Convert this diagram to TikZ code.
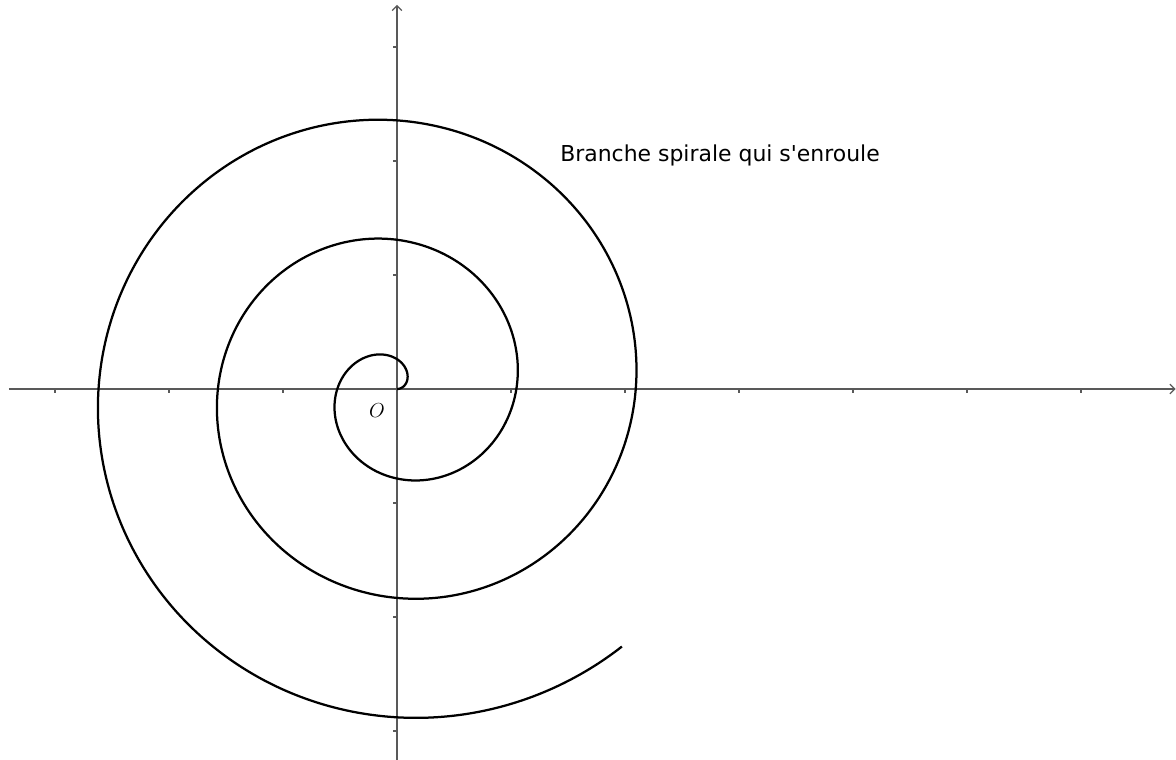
\documentclass[tikz,border=0pt]{standalone}
\usepackage{fontspec}
\newfontfamily\labelfont{DejaVu Sans}
\usepackage{tikz}
\usetikzlibrary{arrows.meta}

\begin{document}
\begin{tikzpicture}[
  x=2.85cm, y=2.85cm,
  axis/.style={line width=0.95pt, draw=black!65, -{Straight Barb[length=1.2mm,width=2.4mm]}},
  tick/.style={line width=0.95pt, draw=black!65},
  curve/.style={line width=1.6pt, black, line join=round},
  txt/.style={font=\labelfont\fontsize{15.6}{18}\selectfont, inner sep=0pt}
]
  \useasboundingbox (-3.482,-3.254) rectangle (6.833,3.412);
  % axes
  \coordinate (O) at (0,0);
  \coordinate (xmin) at (-3.404,0);
  \coordinate (xmax) at (6.83,0);
  \coordinate (ymin) at (0,-3.254);
  \coordinate (ymax) at (0,3.37);
  \draw[axis] (xmin) -- (xmax);
  \draw[axis] (ymin) -- (ymax);
  \foreach \i in {-3,-2,-1,1,2,3,4,5,6}
    \draw[tick] (\i,0) -- (\i,-0.038);
  \foreach \j in {-3,-2,-1,1,2,3}
    \draw[tick] (0,\j) -- (-0.038,\j);
  \node[font=\fontsize{14.5}{16}\selectfont] (lblO) at (-0.175,-0.19) {$O$};
  % spiral r = t/6
  \draw[curve] plot[domain=0:18, samples=600, smooth, variable=\t]
    ({\t/6*cos(\t r)}, {\t/6*sin(\t r)});
  \node[txt, anchor=base west] (titre) at (1.43,1.994) {Branche spirale qui s'enroule};
\end{tikzpicture}
\end{document}
